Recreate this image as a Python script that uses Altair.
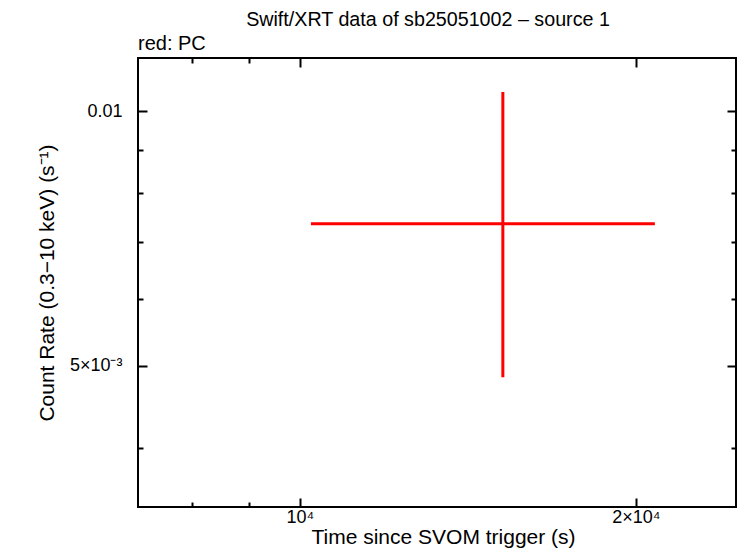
import altair as alt
import pandas as pd

# data
time = [15200.0]
time_lo = [10230.0]
time_hi = [20800.0]
rate = [0.00736]
rate_lo = [0.00485]
rate_hi = [0.01053]

x_major = [10000, 20000]
x_minor = [8000, 9000]
y_major = [0.005, 0.01]
y_minor = [0.004, 0.006, 0.007, 0.008, 0.009]

df = pd.DataFrame({"t": time, "t_lo": time_lo, "t_hi": time_hi,
                   "r": rate, "r_lo": rate_lo, "r_hi": rate_hi})

FONT = "Liberation Sans"
xs = alt.Scale(type="log", domain=[7160, 24590], nice=False)
ys = alt.Scale(type="log", domain=[0.003408, 0.01155], nice=False)

common = dict(domain=False, grid=False, tickColor="black", tickWidth=2,
              labelFont=FONT, labelFontSize=18, labelColor="black",
              titleFont=FONT, titleFontSize=21, titleColor="black",
              titleFontWeight="normal")

ax_bottom_major = alt.Axis(orient="bottom", values=x_major, tickSize=9, offset=-9,
                           labelExpr="datum.value == 10000 ? '10⁴' : '2×10⁴'",
                           labelPadding=1, title="Time since SVOM trigger (s)",
                           titlePadding=0, titleX=305, **common)
ax_bottom_minor = alt.Axis(orient="bottom", values=x_minor, tickSize=5, offset=-5,
                           labels=False, title=None, **common)
ax_top_major = alt.Axis(orient="top", values=x_major, tickSize=9, offset=-9,
                        labels=False, title=None, **common)
ax_top_minor = alt.Axis(orient="top", values=x_minor, tickSize=5, offset=-5,
                        labels=False, title=None, **common)

ax_left_major = alt.Axis(orient="left", values=y_major, tickSize=9, offset=-9,
                         labelExpr="datum.value == 0.01 ? '0.01' : '5×10⁻³'",
                         labelPadding=16, title="Count Rate (0.3−10 keV) (s⁻¹)",
                         titlePadding=12, **common)
ax_left_minor = alt.Axis(orient="left", values=y_minor, tickSize=5, offset=-5,
                         labels=False, title=None, **common)
ax_right_major = alt.Axis(orient="right", values=y_major, tickSize=9, offset=-9,
                          labels=False, title=None, **common)
ax_right_minor = alt.Axis(orient="right", values=y_minor, tickSize=5, offset=-5,
                          labels=False, title=None, **common)

base = alt.Chart(df)

hbar = base.mark_rule(color="#ff0000", strokeWidth=3).encode(
    x=alt.X("t_lo:Q", scale=xs, axis=ax_bottom_major),
    x2="t_hi:Q",
    y=alt.Y("r:Q", scale=ys, axis=ax_left_major),
)
vbar = base.mark_rule(color="#ff0000", strokeWidth=3).encode(
    x=alt.X("t:Q", scale=xs, axis=ax_bottom_minor),
    y=alt.Y("r_lo:Q", scale=ys, axis=ax_left_minor),
    y2="r_hi:Q",
)
top_major = base.mark_point(opacity=0).encode(
    x=alt.X("t:Q", scale=xs, axis=ax_top_major),
    y=alt.Y("r:Q", scale=ys, axis=ax_right_major),
)
top_minor = base.mark_point(opacity=0).encode(
    x=alt.X("t:Q", scale=xs, axis=ax_top_minor),
    y=alt.Y("r:Q", scale=ys, axis=ax_right_minor),
)
sub = base.mark_text(align="left", baseline="alphabetic", font=FONT,
                     fontSize=20, color="black").encode(
    x=alt.value(0), y=alt.value(-8), text=alt.value("red: PC"))
ttl = base.mark_text(align="center", baseline="alphabetic", font=FONT,
                     fontSize=19.7, color="black").encode(
    x=alt.value(290), y=alt.value(-32),
    text=alt.value("Swift/XRT data of sb25051002 – source 1"))

chart = alt.layer(hbar, vbar, top_major, top_minor, sub, ttl).resolve_axis(
    x="independent", y="independent"
).properties(
    width=598, height=449,
    autosize=alt.AutoSizeParams(type="none"),
    padding={"left": 130, "top": 50, "right": 2, "bottom": 42},
    background="white",
).configure_view(stroke="black", strokeWidth=2)

chart.save("out.html", embed_options={"renderer": "svg", "actions": False})
